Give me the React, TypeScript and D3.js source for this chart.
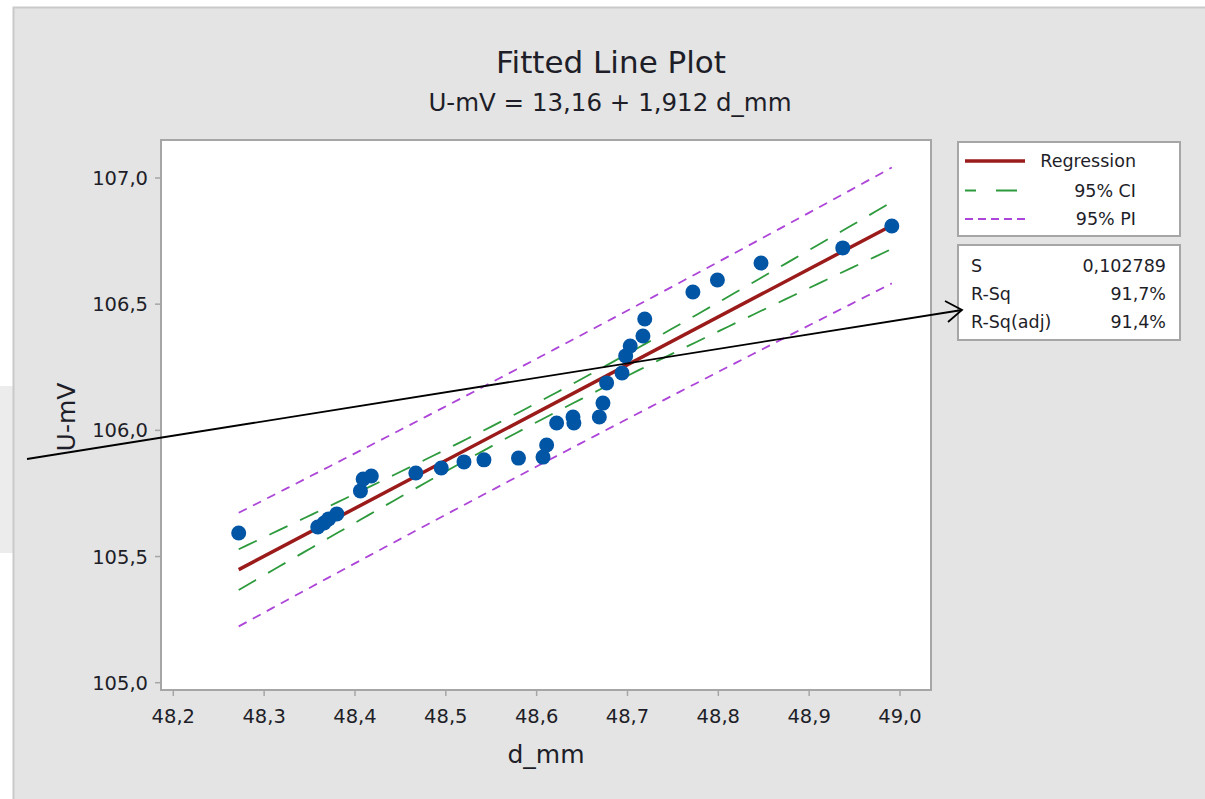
import React from "react";
import * as d3 from "d3";

// ---- data ----
const dMm: number[] = [
  48.272, 48.359, 48.366, 48.371, 48.380, 48.406, 48.409, 48.418, 48.467, 48.495,
  48.520, 48.542, 48.580, 48.607, 48.611, 48.622, 48.640, 48.641, 48.669, 48.673,
  48.677, 48.694, 48.698, 48.703, 48.717, 48.719, 48.772, 48.799, 48.847, 48.937,
  48.991,
];
const uMv: number[] = [
  105.593, 105.617, 105.633, 105.649, 105.669, 105.760, 105.807, 105.819, 105.831, 105.851,
  105.875, 105.883, 105.890, 105.894, 105.942, 106.029, 106.053, 106.029, 106.053, 106.108,
  106.188, 106.227, 106.295, 106.334, 106.374, 106.441, 106.548, 106.596, 106.663, 106.723,
  106.810,
];
const xTicks: number[] = [48.2, 48.3, 48.4, 48.5, 48.6, 48.7, 48.8, 48.9, 49.0];
const yTicks: number[] = [105.0, 105.5, 106.0, 106.5, 107.0];
const legendLabels: string[] = ["Regression", "95% CI", "95% PI"];
const statLabels: string[] = ["S", "R-Sq", "R-Sq(adj)"];
const statValues: string[] = ["0,102789", "91,7%", "91,4%"];
const sValue = 0.102789;
const tCrit = 2.045; // t(0.975, df = 29)
const titleText = "Fitted Line Plot";
const subtitleText = "U-mV = 13,16 + 1,912 d_mm";

const FONT = "'DejaVu Sans', Verdana, sans-serif";
const TXT = "#1e1e28";
const RED = "#9b1b1b";
const GREEN = "#2d9a3c";
const PURPLE = "#ad45d8";
const BLUE = "#0055a5";

const locale = d3.formatLocale({ decimal: ",", thousands: ".", grouping: [3], currency: ["", ""] });
const fmt1 = locale.format(".1f");

export default function App() {
  const frame = { x: 161, y: 140, w: 770, h: 550 };
  const x = d3.scaleLinear().domain([48.2, 49.0]).range([173.3, 900]);
  const y = d3.scaleLinear().domain([105.0, 107.0]).range([682.7, 178]);

  // least-squares fit
  const n = dMm.length;
  const xbar = d3.mean(dMm) as number;
  const ybar = d3.mean(uMv) as number;
  const sxx = d3.sum(dMm, (v) => (v - xbar) ** 2);
  const sxy = d3.sum(dMm.map((v, i) => (v - xbar) * (uMv[i] - ybar)));
  const b1 = sxy / sxx;
  const b0 = ybar - b1 * xbar;
  const fit = (v: number) => b0 + b1 * v;

  const [dMin, dMax] = d3.extent(dMm) as [number, number];
  const grid = d3.range(0, 81).map((k) => dMin + ((dMax - dMin) * k) / 80);
  const ci = (v: number) => tCrit * sValue * Math.sqrt(1 / n + (v - xbar) ** 2 / sxx);
  const pi = (v: number) => tCrit * sValue * Math.sqrt(1 + 1 / n + (v - xbar) ** 2 / sxx);

  const curve = (f: (v: number) => number) =>
    d3
      .line<number>()
      .x((v) => x(v))
      .y((v) => y(f(v)))(grid) as string;

  const regD = d3
    .line<number>()
    .x((v) => x(v))
    .y((v) => y(fit(v)))([dMin, dMax]) as string;

  const legendStyles = [
    { stroke: RED, width: 3.5, dash: undefined as string | undefined },
    { stroke: GREEN, width: 1.8, dash: "11 20 21 30" },
    { stroke: PURPLE, width: 1.8, dash: "8 5" },
  ];

  return (
    <svg
      width={1205}
      height={799}
      style={{ position: "absolute", left: 0, top: 0, background: "#fff" }}
      fontFamily={FONT}
    >
      <rect x={0} y={0} width={1205} height={799} fill="#ffffff" />
      <rect x={0} y={386} width={14} height={167} fill="#ececec" />
      <rect x={13.5} y={7.5} width={1200} height={800} fill="#e4e4e4" stroke="#c9c9c9" strokeWidth={2} />

      {/* titles */}
      <text x={611} y={73} textAnchor="middle" fontSize={31} fill={TXT}>
        {titleText}
      </text>
      <text x={610} y={111} textAnchor="middle" fontSize={24.5} fill={TXT}>
        {subtitleText}
      </text>

      {/* plot frame */}
      <rect x={frame.x} y={frame.y} width={frame.w} height={frame.h} fill="#ffffff" stroke="#a6a6a6" strokeWidth={2} />

      {/* y axis */}
      {yTicks.map((t) => (
        <g key={"y" + t}>
          <line x1={frame.x - 6} x2={frame.x} y1={y(t)} y2={y(t)} stroke="#a6a6a6" strokeWidth={1.5} />
          <text x={frame.x - 13} y={y(t)} dy="0.36em" textAnchor="end" fontSize={19.5} fill={TXT}>
            {fmt1(t)}
          </text>
        </g>
      ))}
      {/* x axis */}
      {xTicks.map((t) => (
        <g key={"x" + t}>
          <line x1={x(t)} x2={x(t)} y1={frame.y + frame.h} y2={frame.y + frame.h + 6} stroke="#a6a6a6" strokeWidth={1.5} />
          <text x={x(t)} y={723} textAnchor="middle" fontSize={19.5} fill={TXT}>
            {fmt1(t)}
          </text>
        </g>
      ))}
      <text x={546} y={763} textAnchor="middle" fontSize={25} fill={TXT}>
        d_mm
      </text>
      <text transform="translate(75,417) rotate(-90)" textAnchor="middle" fontSize={25} fill={TXT}>
        U-mV
      </text>

      {/* bands */}
      <path d={curve((v) => fit(v) + pi(v))} fill="none" stroke={PURPLE} strokeWidth={1.8} strokeDasharray="9 7" />
      <path d={curve((v) => fit(v) - pi(v))} fill="none" stroke={PURPLE} strokeWidth={1.8} strokeDasharray="9 7" />
      <path d={curve((v) => fit(v) + ci(v))} fill="none" stroke={GREEN} strokeWidth={1.8} strokeDasharray="20 14" />
      <path d={curve((v) => fit(v) - ci(v))} fill="none" stroke={GREEN} strokeWidth={1.8} strokeDasharray="20 14" />
      <path d={regD} fill="none" stroke={RED} strokeWidth={3.5} />

      {/* points */}
      {dMm.map((v, i) => (
        <circle key={"p" + i} cx={x(v)} cy={y(uMv[i])} r={7.5} fill={BLUE} />
      ))}

      {/* legend */}
      <rect x={958} y={142} width={222} height={94} fill="#ffffff" stroke="#a6a6a6" strokeWidth={2} />
      {legendLabels.map((lab, i) => {
        const ly = [161, 190.5, 219][i];
        const st = legendStyles[i];
        return (
          <g key={"l" + i}>
            <line x1={965} x2={1025} y1={ly} y2={ly} stroke={st.stroke} strokeWidth={st.width} strokeDasharray={st.dash} />
            <text x={1136} y={ly} dy="0.36em" textAnchor="end" fontSize={17.5} fill={TXT}>
              {lab}
            </text>
          </g>
        );
      })}

      {/* stats */}
      <rect x={958} y={245} width={222} height={95} fill="#ffffff" stroke="#a6a6a6" strokeWidth={2} />
      {statLabels.map((lab, i) => {
        const sy = [271.5, 299.5, 327.5][i];
        return (
          <g key={"s" + i}>
            <text x={971} y={sy} fontSize={17.5} fill={TXT}>
              {lab}
            </text>
            <text x={1166} y={sy} textAnchor="end" fontSize={17.5} fill={TXT}>
              {statValues[i]}
            </text>
          </g>
        );
      })}

      {/* annotation arrow */}
      <line x1={27} y1={459} x2={962} y2={310} stroke="#000" strokeWidth={1.8} />
      <polyline points="945,301 962,310 948,322" fill="none" stroke="#000" strokeWidth={1.8} />
    </svg>
  );
}
